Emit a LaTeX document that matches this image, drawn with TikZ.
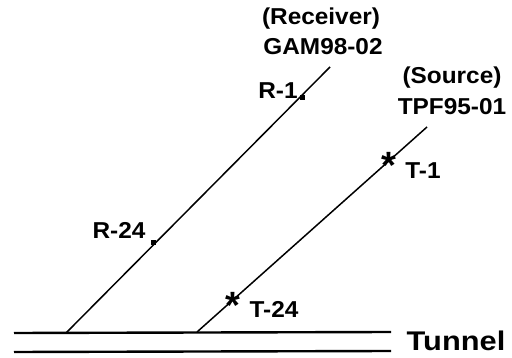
\documentclass[tikz,border=0pt]{standalone}
\usepackage{fontspec}
\setmainfont{Liberation Sans}
\newfontfamily\lblfont[FakeStretch=1.06]{Liberation Sans}
\newfontfamily\bigfont[FakeStretch=1.14]{Liberation Sans}
\begin{document}
\begin{tikzpicture}[x=1pt,y=-1pt,
  wire/.style={draw=black,line width=1.5pt},
  tun/.style={draw=black,line width=2.4pt},
  lbl/.style={font=\lblfont\fontsize{23}{24}\selectfont\bfseries,inner sep=0pt,text=black},
  big/.style={font=\bigfont\fontsize{27}{30}\selectfont\bfseries,inner sep=0pt,text=black},
  star/.style={font=\fontsize{38}{38}\selectfont\bfseries,inner sep=0pt,text=black},
  dot/.style={fill=black,inner sep=0pt,minimum size=5pt,rectangle}]
\useasboundingbox (0,0) rectangle (512,358);
\coordinate (tl1) at (14,333); \coordinate (tr1) at (391,332);
\coordinate (tl2) at (14,352); \coordinate (tr2) at (391,351);
\coordinate (r0) at (66,333); \coordinate (r1) at (330,67);
\coordinate (s0) at (197,332); \coordinate (s1) at (427,127);
\draw[tun] (tl1) -- (tr1);
\draw[tun] (tl2) -- (tr2);
\draw[wire] (r0) -- (r1);
\draw[wire] (s0) -- (s1);
\node[dot] (mr1) at (302,98) {};
\node[dot] (mr24) at (153,243) {};
\node[lbl] (t1) at (321,19) {(Receiver)};
\node[lbl] (t2) at (323,47) {GAM98-02};
\node[lbl] (t3) at (452,78) {(Source)};
\node[lbl] (t4) at (452,107) {TPF95-01};
\node[lbl] (t5) at (278,91) {R-1};
\node[lbl] (t6) at (423,171) {T-1};
\node[lbl] (t7) at (119,230) {R-24};
\node[lbl] (t8) at (274,309) {T-24};
\node[big] (t9) at (456,341) {Tunnel};
\node[star] (m1) at (389,165) {*};
\node[star] (m2) at (233,305) {*};
\end{tikzpicture}
\end{document}
